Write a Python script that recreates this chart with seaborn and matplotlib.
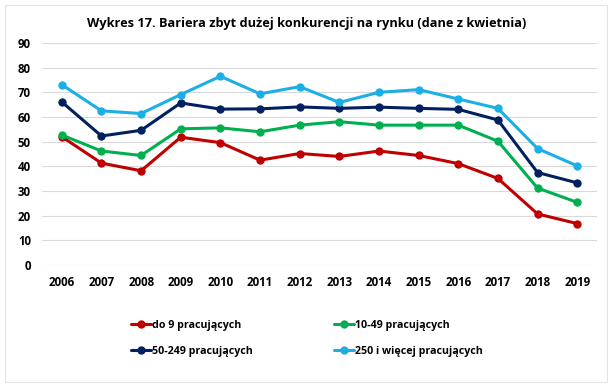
import matplotlib
matplotlib.use("Agg")
import matplotlib.pyplot as plt
import seaborn as sns
import pandas as pd
from matplotlib.patches import Rectangle

years = [2006, 2007, 2008, 2009, 2010, 2011, 2012, 2013, 2014, 2015, 2016, 2017, 2018, 2019]
series_names = ["do 9 pracujących", "10-49 pracujących", "50-249 pracujących", "250 i więcej pracujących"]
do9 = [52.0, 41.3, 38.2, 51.8, 49.6, 42.5, 45.2, 44.0, 46.2, 44.4, 41.1, 35.1, 20.7, 16.8]
s10_49 = [52.7, 46.2, 44.4, 55.2, 55.6, 54.0, 56.7, 58.1, 56.7, 56.7, 56.7, 50.2, 31.2, 25.4]
s50_249 = [66.1, 52.3, 54.6, 65.7, 63.2, 63.3, 64.1, 63.5, 64.0, 63.5, 63.1, 58.8, 37.5, 33.3]
s250 = [73.1, 62.5, 61.4, 69.1, 76.5, 69.4, 72.3, 65.9, 70.0, 71.1, 67.3, 63.5, 47.2, 40.2]
colors = ["#C00000", "#00B050", "#002060", "#1CAFE6"]
title = "Wykres 17. Bariera zbyt dużej konkurencji na rynku (dane z kwietnia)"

rows = []
for name, vals in zip(series_names, [do9, s10_49, s50_249, s250]):
    for i, (y, v) in enumerate(zip(years, vals)):
        rows.append({"pos": i, "year": y, "value": v, "series": name})
df = pd.DataFrame(rows)

sns.set_theme(style="white")
plt.rcParams["font.family"] = ["Open Sans", "DejaVu Sans"]
plt.rcParams["text.color"] = "black"

fig = plt.figure(figsize=(6.13, 3.89), dpi=100)
ax = fig.add_axes([42/613, 1 - 265/389, 555/613, 222/389])

sns.lineplot(data=df, x="pos", y="value", hue="series", hue_order=series_names,
             palette=colors, marker="o", markersize=6, markeredgewidth=0,
             linewidth=2.2, dashes=False, ax=ax, legend=True)

ax.set_xlim(-0.5, len(years) - 0.5)
ax.set_ylim(0, 90)
ax.set_yticks(range(0, 91, 10))
ax.set_xticks(range(len(years)))
ax.set_xticklabels([str(y) for y in years])
ax.yaxis.grid(True, color="#D9D9D9", linewidth=0.8)
ax.xaxis.grid(False)
for s in ax.spines.values():
    s.set_visible(False)
ax.set_xlabel("")
ax.set_ylabel("")
ax.tick_params(axis="both", length=0, labelsize=8.3, colors="#000000")
for lbl in ax.get_xticklabels() + ax.get_yticklabels():
    lbl.set_fontweight("bold")
ax.tick_params(axis="x", pad=8)
ax.tick_params(axis="y", pad=8)

handles, labels = ax.get_legend_handles_labels()
ax.get_legend().remove()
order = [0, 2, 1, 3]
fig.legend([handles[i] for i in order], [labels[i] for i in order],
           loc="upper left", bbox_to_anchor=(131/613, 1 - 320/389),
           ncol=2, frameon=False, prop={"weight": "bold", "size": 7.7},
           columnspacing=7.6, handlelength=1.9, handletextpad=0.05,
           labelspacing=1.4, borderpad=0, borderaxespad=0)

fig.text(0.5, 1 - 24/389, title, ha="center", va="center", fontsize=9.2,
         fontweight="bold", color="black")

fig.patches.append(Rectangle((5/613, 7/389), 602/613, 377/389, transform=fig.transFigure,
                             fill=False, edgecolor="#E4E4E4", linewidth=0.8))

fig.savefig("out.png", dpi=100)
